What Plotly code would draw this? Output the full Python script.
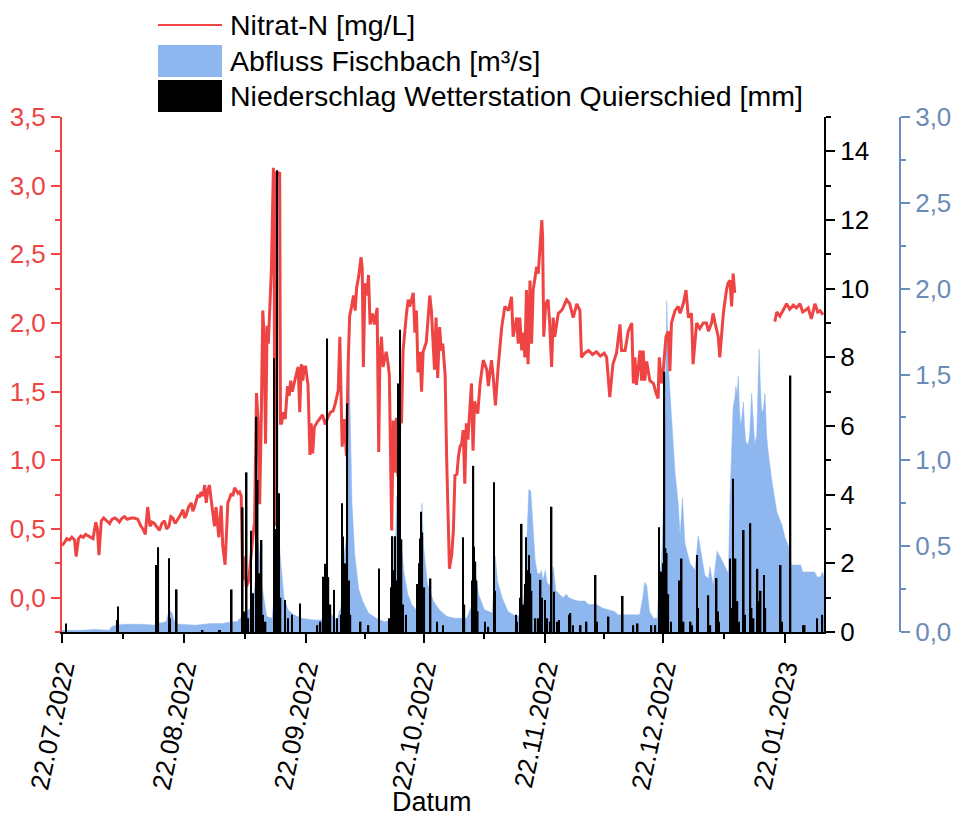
import pandas as pd
import plotly.graph_objects as go

START = "2022-07-22"

# ---------------- data (day offset from 22.07.2022, value) ----------------
nitrat_tage = [0.0, 0.6, 1.2, 1.9, 2.5, 3.2, 3.6, 4.2, 4.8, 5.4, 6.0, 6.6, 7.3, 7.9, 8.6, 9.0, 9.4, 10.0, 10.6, 11.3,
               12.1, 12.7, 13.4, 14.0, 14.6, 15.3, 15.9, 16.6, 17.6, 18.4, 19.3, 20.1, 20.6, 21.2, 21.8, 22.4, 22.9, 23.5,
               24.2, 24.8, 25.4, 26.1, 26.6, 27.2, 27.7, 28.2, 28.8, 29.5, 30.1, 30.8, 31.2, 31.6, 32.2, 32.9, 33.3, 33.7,
               34.2, 34.6, 35.0, 35.4, 35.9, 36.3, 36.7, 37.1, 37.5, 37.9, 38.2, 38.8, 39.2, 39.5, 39.9, 40.5, 40.9, 41.5,
               42.2, 42.6, 43.1, 43.5, 43.9, 44.4, 44.8, 45.2, 45.6, 46.0, 46.3, 46.6, 46.9, 47.5, 48.0, 48.6, 49.0, 49.5,
               49.9, 50.3, 50.7, 51.1, 51.4, 51.8, 52.2, 52.5, 52.9, 53.3, 53.8, 54.0, 54.2, 54.4, 55.0, 55.4, 55.6, 55.9,
               56.2, 56.8, 57.4, 57.8, 58.2, 58.6, 59.4, 60.1, 60.5, 60.9, 61.3, 61.6, 62.0, 62.6, 63.1, 63.4, 63.8, 64.2,
               65.0, 65.6, 66.3, 67.0, 67.6, 68.3, 69.0, 69.6, 70.3, 70.7, 71.0, 71.3, 71.8, 72.4, 72.8, 73.2, 73.7, 74.2,
               74.6, 75.0, 75.5, 76.1, 76.4, 76.7, 77.1, 77.6, 78.0, 78.4, 79.0, 79.5, 80.2, 80.6, 80.9, 81.3, 81.7, 82.5,
               83.0, 83.3, 83.9, 84.3, 84.7, 85.1, 85.5, 86.0, 86.4, 86.8, 87.6, 88.1, 88.5, 89.4, 89.8, 90.2, 90.6, 91.1,
               91.5, 91.9, 92.7, 93.6, 94.0, 94.4, 94.8, 95.2, 95.6, 96.1, 96.5, 96.9, 97.5, 97.9, 98.3, 98.6, 99.2, 99.6,
               100.0, 100.5, 100.9, 101.3, 101.7, 102.1, 102.5, 102.9, 103.3, 104.2, 104.6, 105.0, 105.8, 106.4, 107.2,
               108.1, 108.5, 109.3, 109.7, 110.3, 111.0, 111.9, 112.7, 113.6, 114.4, 114.8, 115.7, 116.1, 116.5, 117.0,
               117.4, 117.8, 118.2, 118.6, 119.1, 119.5, 119.9, 120.4, 120.8, 121.2, 121.6, 122.1, 122.3, 122.6, 123.1,
               123.7, 124.1, 124.6, 125.0, 125.4, 126.3, 127.1, 127.5, 128.4, 129.2, 129.6, 130.1, 131.0, 131.8, 132.2,
               133.0, 134.0, 135.0, 136.0, 137.0, 138.0, 138.6, 139.4, 140.2, 141.1, 142.0, 142.4, 143.3, 144.1, 145.0,
               145.4, 145.8, 146.2, 147.1, 147.5, 147.9, 148.3, 148.8, 149.6, 150.5, 151.3, 151.7, 152.0, 152.6, 153.0,
               153.7, 154.3, 154.7, 155.1, 156.0, 156.8, 157.3, 158.1, 158.8, 159.4, 160.2, 160.6, 161.5, 162.3, 163.2,
               164.0, 164.5, 165.3, 165.7, 166.2, 167.0, 167.4, 168.3, 169.1, 169.5, 170.0, 170.4, 170.8, 171.2, 176.0,
               181.4, 181.9, 182.7, 183.5, 184.4, 185.2, 186.1, 186.9, 187.8, 188.5, 189.1, 189.9, 190.7, 191.6, 192.3,
               192.9, 193.7]
nitrat_werte = [0.38, 0.40, 0.43, 0.42, 0.44, 0.42, 0.30, 0.43, 0.45, 0.44, 0.46, 0.45, 0.44, 0.43, 0.55, 0.50, 0.31, 0.56, 0.58, 0.56,
                0.54, 0.57, 0.58, 0.57, 0.55, 0.58, 0.59, 0.57, 0.58, 0.58, 0.57, 0.52, 0.50, 0.46, 0.66, 0.52, 0.55, 0.54,
                0.51, 0.49, 0.54, 0.56, 0.50, 0.52, 0.59, 0.58, 0.54, 0.57, 0.60, 0.64, 0.58, 0.60, 0.66, 0.69, 0.63, 0.66,
                0.72, 0.75, 0.73, 0.77, 0.74, 0.82, 0.69, 0.78, 0.82, 0.72, 0.66, 0.52, 0.66, 0.58, 0.44, 0.67, 0.38, 0.24,
                0.69, 0.72, 0.76, 0.74, 0.80, 0.78, 0.76, 0.77, 0.74, 0.13, 0.30, 0.20, 0.08, 0.12, 0.30, 0.45, 0.55, 1.49,
                1.29, 0.68, 1.29, 2.09, 1.93, 1.12, 1.98, 1.85, 2.12, 2.40, 3.13, 2.50, 0.52, 3.10, 3.08, 3.10, 1.27, 1.27,
                1.35, 1.30, 1.54, 1.47, 1.58, 1.50, 1.60, 1.68, 1.35, 1.70, 1.58, 1.68, 1.68, 1.55, 1.04, 1.27, 1.05, 1.24,
                1.28, 1.30, 1.33, 1.26, 1.31, 1.35, 1.36, 1.42, 1.51, 1.90, 1.35, 1.10, 1.30, 1.03, 1.68, 2.05, 2.12, 2.20,
                2.09, 2.26, 2.34, 2.48, 2.40, 1.68, 2.29, 2.20, 2.35, 1.99, 2.07, 1.99, 2.11, 1.06, 1.75, 1.90, 1.68, 1.79,
                1.70, 1.62, 0.49, 1.29, 0.91, 1.31, 0.88, 1.31, 1.27, 1.80, 2.05, 2.17, 2.12, 2.22, 1.93, 2.09, 1.64, 1.79,
                1.50, 1.79, 1.86, 2.20, 2.09, 1.90, 1.66, 2.04, 1.60, 1.97, 1.80, 1.85, 1.62, 1.00, 0.44, 0.21, 0.32, 0.49,
                0.89, 0.90, 1.03, 1.10, 1.12, 1.22, 0.83, 1.27, 1.15, 1.56, 1.07, 1.43, 1.34, 1.56, 1.73,
                1.66, 1.54, 1.73, 1.62, 1.40, 1.68, 1.97, 2.12, 2.09, 2.19, 1.90, 2.04, 1.85, 2.04, 1.80,
                1.93, 1.75, 2.24, 1.70, 2.31, 1.85, 2.24, 2.34, 2.41, 2.36, 2.53, 2.75, 2.63, 1.90, 2.14,
                2.17, 2.00, 1.68, 2.04, 1.90, 2.07, 2.09, 2.11, 2.17, 2.14, 2.09, 2.04, 2.14, 2.09, 1.75,
                1.78, 1.80, 1.77, 1.79, 1.76, 1.78, 1.75, 1.46, 1.70, 1.78, 1.99, 1.80, 1.80, 1.94, 2.00,
                1.56, 1.75, 1.55, 1.80, 1.58, 1.80, 1.58, 1.72, 1.58, 1.56, 1.48, 1.45, 1.75, 1.56, 1.65,
                1.90, 1.94, 1.65, 2.00, 2.09, 2.12, 2.07, 2.14, 2.24, 2.04, 2.07, 1.70, 2.00, 1.96, 2.00,
                2.00, 1.94, 2.00, 2.07, 2.00, 1.90, 1.75, 2.07, 2.24, 2.29, 2.31, 2.12, 2.36, 2.22, None,
                2.01, 2.08, 2.05, 2.09, 2.14, 2.10, 2.13, 2.11, 2.14, 2.08, 2.09, 2.11, 2.03, 2.14, 2.08,
                2.09, 2.06]

abfluss_tage = [0.0, 5.0, 8.5, 12.0, 12.6, 13.5, 16.0, 20.0, 24.0, 24.5, 26.5, 27.3, 28.0, 28.8, 30.0, 34.0, 36.0, 38.0,
                41.0, 43.0, 44.5, 46.0, 47.0, 48.0, 49.0, 50.0, 50.8, 52.1, 53.5, 54.5, 55.0, 55.5, 56.5, 57.5, 59.0,
                61.0, 64.0, 66.0, 67.2, 67.8, 68.6, 70.0, 71.0, 71.8, 72.4, 72.9, 73.3, 73.8, 74.5, 75.5, 76.5, 78.0,
                80.0, 82.0, 84.0, 84.6, 85.2, 85.6, 86.2, 87.0, 88.0, 89.0, 90.5, 91.2, 91.6, 92.0, 93.0, 94.5, 96.0,
                98.0, 100.0, 103.0, 104.2, 104.7, 105.3, 106.0, 107.5, 109.5, 110.0, 110.3, 110.8, 112.0, 113.5, 115.5,
                117.0, 117.8, 118.4, 118.8, 119.3, 119.8, 120.4, 121.0, 121.6, 122.0, 122.4, 123.0, 123.4, 124.2, 125.0,
                125.7, 126.6, 127.5, 128.3, 129.0, 130.0, 131.5, 133.0, 134.0, 136.0, 137.5, 139.0, 140.6, 141.5, 143.5,
                145.0, 147.0, 147.8, 148.3, 148.8, 149.5, 150.5, 151.5, 152.0, 152.6, 153.3, 153.9, 154.3, 155.1, 156.0,
                156.8, 157.3, 157.9, 158.5, 159.8, 161.1, 161.9, 162.8, 163.6, 164.5, 164.9, 165.7, 166.7, 167.9, 169.1,
                169.6, 170.0, 170.4, 170.8, 171.2, 171.5, 171.8, 172.1, 172.4, 172.7, 173.0, 173.4, 173.7, 174.0, 174.6,
                175.0, 175.5, 175.9, 176.3, 176.8, 177.4, 177.7, 178.0, 178.4, 178.9, 179.3, 179.7, 180.6, 181.9, 183.1,
                184.0, 185.2, 185.5, 188.0, 188.5, 190.0, 191.5, 192.2, 193.0, 193.5, 194.0]
abfluss_werte = [0.01, 0.01, 0.015, 0.01, 0.03, 0.04, 0.045, 0.045, 0.04, 0.05, 0.06, 0.13, 0.11, 0.05, 0.045, 0.04, 0.045, 0.05,
                 0.05, 0.06, 0.06, 0.10, 0.12, 0.14, 0.25, 0.52, 0.28, 0.09, 0.08, 0.35, 0.60, 0.45, 0.20, 0.13, 0.10,
                 0.08, 0.07, 0.07, 0.12, 0.16, 0.10, 0.07, 0.15, 0.45, 0.55, 1.76, 1.20, 0.75, 0.45, 0.25, 0.18, 0.11,
                 0.08, 0.06, 0.07, 0.28, 0.79, 0.65, 0.55, 0.35, 0.22, 0.16, 0.12, 0.35, 0.75, 0.50, 0.28, 0.18, 0.13,
                 0.09, 0.08, 0.08, 0.15, 0.40, 0.33, 0.22, 0.13, 0.11, 0.30, 0.44, 0.30, 0.20, 0.12, 0.09,
                 0.10, 0.26, 0.60, 0.83, 0.82, 0.62, 0.42, 0.34, 0.34, 0.36, 0.30, 0.36, 0.29, 0.27, 0.38,
                 0.24, 0.22, 0.20, 0.22, 0.20, 0.19, 0.18, 0.18, 0.16, 0.16, 0.14, 0.13, 0.12, 0.10, 0.10,
                 0.10, 0.10, 0.20, 0.29, 0.27, 0.12, 0.08, 0.08, 0.30, 0.42, 0.90, 1.93, 1.55, 1.27, 0.93,
                 0.75, 0.56, 0.78, 0.52, 0.40, 0.36, 0.56, 0.43, 0.33, 0.31, 0.38, 0.27, 0.47, 0.42, 0.36,
                 0.34, 0.79, 1.10, 1.31, 1.36, 1.43, 1.38, 1.49, 1.30, 1.20, 1.25, 1.34, 1.20, 1.11, 1.09,
                 1.15, 1.39, 1.20, 1.09, 1.15, 1.65, 1.45, 1.30, 1.28, 1.39, 1.15, 1.05, 0.89, 0.70, 0.63,
                 0.55, 0.48, 0.39, 0.39, 0.35, 0.35, 0.35, 0.32, 0.32, 0.35, 0.32]

niederschlag_tage = [1.0, 14.0, 14.3, 24.1, 24.5, 27.2, 27.5, 29.2, 35.6, 35.8, 39.9, 40.2, 43.2, 46.0, 46.3, 47.0, 47.4,
                     48.1, 48.6, 49.5, 49.8, 50.2, 50.8, 51.1, 51.8, 53.9, 54.2, 54.8, 55.2, 55.6, 56.7, 57.5, 58.5, 60.6,
                     65.0, 65.8, 66.6, 66.9, 67.2, 67.5, 67.8, 68.3, 69.2, 70.0, 71.0, 71.2, 71.5, 71.9, 72.2, 72.6, 73.0,
                     73.4, 76.0, 78.0, 80.7, 83.3, 83.8, 84.1, 84.4, 84.7, 85.0, 85.3, 85.6, 86.0, 86.4, 86.8, 87.5, 90.3,
                     90.8, 91.1, 91.4, 91.7, 92.2, 93.8, 95.5, 97.0, 102.1, 102.4, 104.4, 104.7, 104.9, 105.2, 105.5,
                     105.8, 107.6, 108.5, 109.9, 110.2, 115.5, 115.8, 116.5, 117.0, 117.4, 117.8, 118.1, 118.4, 118.9,
                     119.2, 119.5, 120.5, 121.2, 121.8, 122.2, 122.9, 123.5, 124.2, 124.6, 125.2, 126.0, 126.5, 129.0,
                     129.4, 130.0, 132.0, 133.5, 135.8, 136.2, 139.1, 142.7, 145.4, 146.5, 150.0, 151.0, 151.9, 152.3,
                     152.6, 152.9, 153.3, 153.6, 153.9, 154.3, 155.0, 157.0, 157.4, 157.7, 158.2, 160.0, 160.3, 161.6,
                     161.9, 164.5, 165.0, 166.6, 166.9, 167.2, 170.0, 170.3, 170.8, 171.1, 171.4, 171.9, 172.3, 173.5,
                     173.8, 175.2, 175.5, 176.0, 177.0, 177.4, 177.8, 178.7, 179.0, 182.9, 183.2, 185.4, 188.6, 189.0,
                     192.2, 193.5]
niederschlag_werte = [0.25, 0.35, 0.74, 1.95, 2.47, 2.15, 0.40, 1.24, 0.05, 0.05, 0.05, 0.05, 1.24, 3.63, 0.60, 4.65, 0.40,
                      2.95, 1.13, 6.27, 4.43, 1.71, 2.68, 0.50, 0.30, 7.97, 3.00, 13.45, 4.04, 1.00, 0.93, 0.40, 0.50, 0.83,
                      0.20, 0.30, 1.61, 1.99, 0.90, 8.55, 1.60, 0.80, 1.22, 0.40, 0.50, 3.75, 2.78, 1.60, 2.00, 6.66, 1.50,
                      0.50, 0.30, 0.20, 1.85, 0.40, 1.30, 2.79, 1.80, 2.79, 1.50, 0.90, 7.24, 8.80, 2.70, 0.80, 0.50, 1.40,
                      2.00, 2.72, 3.50, 2.90, 1.30, 1.56, 0.30, 0.20, 2.76, 0.80, 1.50, 4.84, 2.48, 2.05, 1.50,
                      0.60, 0.30, 0.15, 4.36, 1.20, 0.50, 0.30, 1.00, 3.15, 0.80, 1.40, 2.76, 1.80, 2.24,
                      1.70, 1.20, 0.40, 0.40, 1.52, 1.00, 0.93, 0.40, 0.30, 3.65, 1.17, 0.30, 0.35, 0.50,
                      0.55, 0.20, 0.20, 0.30, 1.66, 0.30, 0.45, 1.05, 0.20, 0.25, 0.20, 0.20, 3.05, 0.40,
                      1.76, 2.00, 7.58, 2.44, 2.30, 1.10, 0.30, 1.50, 0.40, 2.14, 0.30, 0.30, 0.20, 2.24,
                      0.70, 1.07, 0.20, 1.57, 0.60, 0.30, 2.14, 0.70, 4.46, 1.37, 2.14, 0.90, 0.30, 2.97,
                      0.50, 3.17, 0.70, 0.40, 1.84, 0.90, 1.20, 1.66, 0.70, 1.95, 0.30, 7.47, 0.20, 0.20,
                      0.40, 0.50]

x_tick_dates = ["2022-07-22", "2022-08-22", "2022-09-22", "2022-10-22", "2022-11-22", "2022-12-22", "2023-01-22"]
x_tick_labels = ["22.07.2022", "22.08.2022", "22.09.2022", "22.10.2022", "22.11.2022", "22.12.2022", "22.01.2023"]
x_minor_dates = ["2022-08-06 12:00", "2022-09-06 12:00", "2022-10-07", "2022-11-06 12:00", "2022-12-07", "2023-01-06 12:00"]
x_range = ["2022-07-22", "2023-01-31 22:00"]


def to_dates(tage):
    return list(pd.Timestamp(START) + pd.to_timedelta(tage, unit="D"))


RED = "#EF4444"
BLUE_FILL = "#8EB7EF"
BLUE_AX = "#6B8BB8"
FONT = "Liberation Sans, Arial, sans-serif"
TICKF = 26

fig = go.Figure()

# Abfluss (blue area) on base axis y (drawn first)
fig.add_trace(go.Scatter(
    x=to_dates(abfluss_tage), y=abfluss_werte, mode="lines", fill="tozeroy",
    line=dict(width=0.5, color=BLUE_FILL), fillcolor=BLUE_FILL,
    xaxis="x", yaxis="y", showlegend=False, name="Abfluss Fischbach [m³/s]"))

# Nitrat (red line) on y2
fig.add_trace(go.Scatter(
    x=to_dates(nitrat_tage), y=nitrat_werte, mode="lines", connectgaps=False,
    line=dict(width=3, color=RED),
    xaxis="x", yaxis="y2", showlegend=False, name="Nitrat-N [mg/L]"))

# Niederschlag (black bars) on y3
fig.add_trace(go.Bar(
    x=to_dates(niederschlag_tage), y=niederschlag_werte,
    width=0.4 * 86400000, marker=dict(color="black", line=dict(width=0)),
    xaxis="x", yaxis="y3", showlegend=False, name="Niederschlag Wetterstation Quierschied [mm]"))

L, R = 62, 40
PW = 954 - L - R
x_end = (824 - L) / PW
y3pos = (900 - L) / PW


def px_x(px):
    return (px - L) / PW


def px_y(py):
    return (632 - py) / 515


fig.update_layout(
    width=954, height=819,
    margin=dict(l=L, r=R, t=117, b=187),
    paper_bgcolor="white", plot_bgcolor="white",
    font=dict(family=FONT, size=TICKF, color="black"),
    separators=",.",
    xaxis=dict(
        domain=[0, x_end], type="date", range=x_range,
        tickmode="array", tickvals=x_tick_dates, ticktext=x_tick_labels,
        tickangle=-78, ticks="outside", ticklen=9, tickwidth=2, tickcolor="black",
        showline=True, linecolor="black", linewidth=2, showgrid=False, zeroline=False,
        tickfont=dict(size=TICKF, color="black"),
        minor=dict(tickmode="array", tickvals=x_minor_dates, ticks="outside", ticklen=5, tickwidth=2,
                   tickcolor="black", showgrid=False),
        anchor="y", automargin=False),
    yaxis=dict(
        range=[0, 3.0], anchor="free", position=y3pos, side="right",
        dtick=0.5, tick0=0, tickformat=".1f",
        ticks="outside", ticklen=9, tickwidth=2, tickcolor=BLUE_AX,
        showline=True, linecolor=BLUE_AX, linewidth=2, showgrid=False, zeroline=False,
        tickfont=dict(size=TICKF, color=BLUE_AX),
        minor=dict(dtick=0.25, tick0=0, ticks="outside", ticklen=5, tickwidth=2, tickcolor=BLUE_AX, showgrid=False),
        automargin=False),
    yaxis2=dict(
        range=[-0.25, 3.5], overlaying="y", anchor="x", side="left",
        dtick=0.5, tick0=0, tickformat=".1f",
        ticks="outside", ticklen=9, tickwidth=2, tickcolor=RED,
        showline=True, linecolor=RED, linewidth=2, showgrid=False, zeroline=False,
        tickfont=dict(size=TICKF, color=RED),
        minor=dict(dtick=0.25, tick0=0, ticks="outside", ticklen=5, tickwidth=2, tickcolor=RED, showgrid=False),
        automargin=False),
    yaxis3=dict(
        range=[0, 15], overlaying="y", anchor="x", side="right",
        dtick=2, tick0=0,
        ticks="outside", ticklen=9, tickwidth=2, tickcolor="black",
        showline=True, linecolor="black", linewidth=2, showgrid=False, zeroline=False,
        tickfont=dict(size=TICKF, color="black"),
        minor=dict(dtick=1, tick0=0, ticks="outside", ticklen=5, tickwidth=2, tickcolor="black", showgrid=False),
        automargin=False),
    showlegend=False,
)

# x-axis title
fig.add_annotation(xref="paper", yref="paper", x=px_x(432), y=px_y(802),
                   xanchor="center", yanchor="middle", showarrow=False,
                   text="Datum", font=dict(size=27, color="black", family=FONT))

# ---- manual legend (symbols + text) ----
leg_items = [
    ("line", RED, "Nitrat-N [mg/L]", 25),
    ("rect", BLUE_FILL, "Abfluss Fischbach [m³/s]", 61),
    ("rect", "black", "Niederschlag Wetterstation Quierschied [mm]", 96),
]
for kind, col, txt, cy in leg_items:
    if kind == "line":
        fig.add_shape(type="line", xref="paper", yref="paper",
                      x0=px_x(158), x1=px_x(222), y0=px_y(cy), y1=px_y(cy),
                      line=dict(color=col, width=2))
    else:
        fig.add_shape(type="rect", xref="paper", yref="paper",
                      x0=px_x(158), x1=px_x(222), y0=px_y(cy + 16), y1=px_y(cy - 16),
                      line=dict(width=0), fillcolor=col)
    fig.add_annotation(xref="paper", yref="paper", x=px_x(228), y=px_y(cy),
                       xanchor="left", yanchor="middle", showarrow=False,
                       text=txt, font=dict(size=28.5, color="black", family=FONT))

fig.write_html("out.html")
